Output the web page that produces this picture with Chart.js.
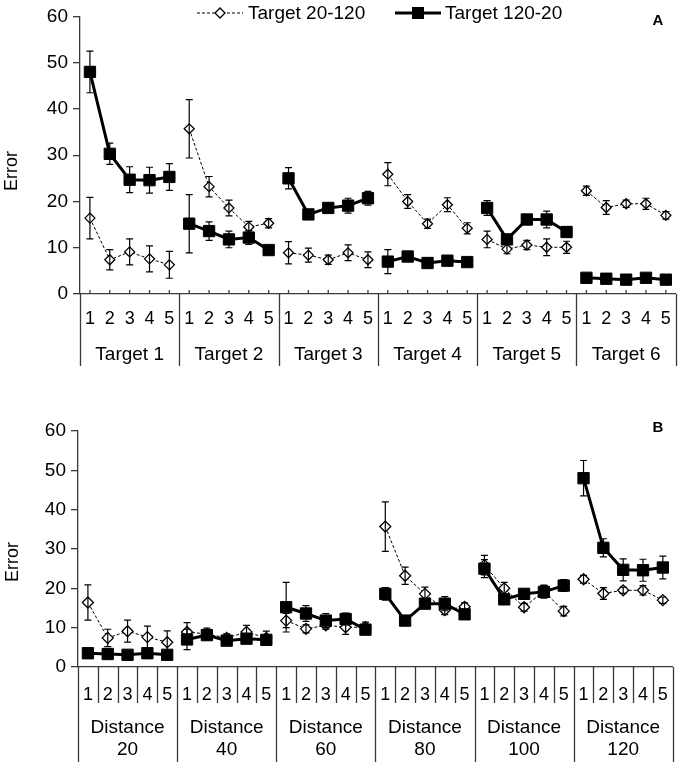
<!DOCTYPE html>
<html>
<head>
<meta charset="utf-8">
<script src="https://cdn.jsdelivr.net/npm/chart.js@4.4.1/dist/chart.umd.min.js"></script>
<style>
  body { margin: 0; background: #fff; }
  canvas { display: block; }
</style>
</head>
<body>
<canvas id="chartA" width="685" height="395"></canvas>
<canvas id="chartB" width="685" height="373"></canvas>
<script>
// trial labels and groups
const trials = ['1', '2', '3', '4', '5'];
const groupsA = ['Target 1', 'Target 2', 'Target 3', 'Target 4', 'Target 5', 'Target 6'];
const groupsB = [['Distance', '20'], ['Distance', '40'], ['Distance', '60'], ['Distance', '80'], ['Distance', '100'], ['Distance', '120']];
const yTicks = [0, 10, 20, 30, 40, 50, 60];

// Panel A - by target
const a20 = [16.4, 7.4, 9.1, 7.6, 6.3, 35.7, 23.2, 18.6, 14.5, 15.3, 8.9, 8.4, 7.4, 8.9, 7.4,
             25.9, 20.0, 15.2, 19.3, 14.2, 11.8, 9.7, 10.6, 10.1, 10.1, 22.3, 18.7, 19.5, 19.5, 17.0];
const a20Err = [4.5, 2.2, 2.8, 2.8, 2.9, 6.3, 2.2, 1.7, 1.2, 1.0, 2.4, 1.5, 1.0, 1.7, 1.7,
                2.5, 1.5, 1.0, 1.5, 1.2, 1.8, 1.0, 1.0, 1.8, 1.3, 1.0, 1.5, 0.8, 1.2, 0.8];
const a120 = [48.0, 30.3, 24.7, 24.6, 25.3, 15.2, 13.6, 11.8, 12.2, 9.5, 25.0, 17.2, 18.6, 19.1, 20.7,
              7.0, 8.1, 6.7, 7.2, 6.9, 18.6, 11.8, 16.1, 16.1, 13.4, 3.5, 3.3, 3.1, 3.5, 3.1];
const a120Err = [4.5, 2.3, 2.8, 2.8, 2.9, 6.3, 2.0, 1.8, 1.5, 0.8, 2.3, 1.0, 1.0, 1.6, 1.5,
                 2.6, 1.0, 0.8, 1.0, 0.8, 1.6, 1.0, 0.8, 1.8, 1.0, 0.8, 0.8, 0.6, 0.8, 0.6];

// Panel B - by distance
const b20 = [16.4, 7.4, 9.1, 7.6, 6.3, 8.9, 8.4, 7.4, 8.9, 7.4, 11.8, 9.7, 10.6, 10.1, 10.1,
             35.7, 23.2, 18.6, 14.5, 15.3, 25.9, 20.0, 15.2, 19.3, 14.2, 22.3, 18.7, 19.5, 19.5, 17.0];
const b20Err = [4.5, 2.2, 2.8, 2.8, 2.9, 2.4, 1.5, 1.0, 1.7, 1.7, 1.8, 1.0, 1.0, 1.8, 1.3,
                6.3, 2.2, 1.7, 1.2, 1.0, 2.5, 1.5, 1.0, 1.5, 1.2, 1.0, 1.5, 0.8, 1.2, 0.8];
const b120 = [3.5, 3.3, 3.1, 3.5, 3.1, 7.0, 8.1, 6.7, 7.2, 6.9, 15.2, 13.6, 11.8, 12.2, 9.5,
              18.6, 11.8, 16.1, 16.1, 13.4, 25.0, 17.2, 18.6, 19.1, 20.7, 48.0, 30.3, 24.7, 24.6, 25.3];
const b120Err = [0.8, 0.8, 0.6, 0.8, 0.6, 2.6, 1.0, 0.8, 1.0, 0.8, 6.3, 2.0, 1.8, 1.5, 0.8,
                 1.6, 1.0, 0.8, 1.8, 1.0, 2.3, 1.0, 1.0, 1.6, 1.5, 4.5, 2.3, 2.8, 2.8, 2.9];

const FONT = '"Liberation Sans", Arial, sans-serif';
const AXIS = '#3a3a3a';
Chart.defaults.font.family = FONT;
Chart.defaults.color = '#000';

// error bars drawn over the markers
const errorBars = {
    id: 'errorBars',
    afterDatasetsDraw(chart) {
        const ctx = chart.ctx;
        const y = chart.scales.y;
        ctx.save();
        ctx.strokeStyle = '#000';
        ctx.lineWidth = 1.2;
        chart.data.datasets.forEach((ds, di) => {
            if (!ds.errors) return;
            const meta = chart.getDatasetMeta(di);
            meta.data.forEach((pt, i) => {
                const v = ds.data[i], e = ds.errors[i];
                const top = y.getPixelForValue(v + e);
                const bot = y.getPixelForValue(v - e);
                ctx.beginPath();
                ctx.moveTo(pt.x, top); ctx.lineTo(pt.x, bot);
                ctx.moveTo(pt.x - 3.5, top); ctx.lineTo(pt.x + 3.5, top);
                ctx.moveTo(pt.x - 3.5, bot); ctx.lineTo(pt.x + 3.5, bot);
                ctx.stroke();
            });
        });
        ctx.restore();
    }
};

// group labels, separators, axis title, panel letter, legend
const panelDecor = {
    id: 'panelDecor',
    afterDraw(chart, args, opts) {
        const ctx = chart.ctx;
        const x = chart.scales.x;
        const ca = chart.chartArea;
        const n = chart.data.labels.length;
        const bounds = [];
        for (let i = 0; i <= n; i++) {
            if (i === 0) bounds.push(ca.left);
            else if (i === n) bounds.push(ca.right);
            else bounds.push((x.getPixelForValue(i - 1) + x.getPixelForValue(i)) / 2);
        }
        ctx.save();
        ctx.strokeStyle = AXIS;
        ctx.lineWidth = 1.3;
        ctx.beginPath();
        // small inside ticks
        if (opts.innerTicks) {
            for (let i = 0; i < n; i++) {
                const px = x.getPixelForValue(i);
                ctx.moveTo(px, ca.bottom); ctx.lineTo(px, ca.bottom - 4);
            }
        }
        for (let i = 0; i <= n; i++) {
            const bx = Math.round(bounds[i]) + 0.5;
            if (i % 5 === 0) {
                ctx.moveTo(bx, ca.bottom); ctx.lineTo(bx, opts.groupBottom);
            } else if (opts.catSeps) {
                ctx.moveTo(bx, ca.bottom); ctx.lineTo(bx, opts.catBottom);
            }
        }
        ctx.stroke();

        // group labels
        ctx.fillStyle = '#000';
        ctx.font = '19px ' + FONT;
        ctx.textAlign = 'center';
        ctx.textBaseline = 'middle';
        opts.groups.forEach((g, gi) => {
            const cx = (bounds[gi * 5] + bounds[gi * 5 + 5]) / 2;
            const lines = Array.isArray(g) ? g : [g];
            lines.forEach((line, li) => {
                ctx.fillText(line, cx, opts.groupY[li]);
            });
        });

        // y axis title
        ctx.save();
        ctx.font = '18px ' + FONT;
        ctx.translate(opts.titleX, opts.titleY);
        ctx.rotate(-Math.PI / 2);
        ctx.fillText('Error', 0, 0);
        ctx.restore();

        // panel letter
        ctx.font = 'bold 15px ' + FONT;
        ctx.fillText(opts.letter, 658, opts.letterY);

        if (opts.legend) {
            const ly = 13;
            ctx.font = '19px ' + FONT;
            ctx.textAlign = 'left';
            // dashed diamond entry
            ctx.strokeStyle = '#000';
            ctx.lineWidth = 1;
            ctx.setLineDash([3, 2]);
            ctx.beginPath();
            ctx.moveTo(197, ly); ctx.lineTo(243, ly);
            ctx.stroke();
            ctx.setLineDash([]);
            ctx.fillStyle = '#fff';
            ctx.lineWidth = 1.3;
            ctx.beginPath();
            ctx.moveTo(215, ly); ctx.lineTo(220, ly - 5); ctx.lineTo(225, ly); ctx.lineTo(220, ly + 5);
            ctx.closePath();
            ctx.fill(); ctx.stroke();
            ctx.fillStyle = '#000';
            ctx.fillText('Target 20-120', 248, ly + 1);
            // solid square entry
            ctx.lineWidth = 3;
            ctx.beginPath();
            ctx.moveTo(395, ly); ctx.lineTo(441, ly);
            ctx.stroke();
            ctx.fillRect(412, ly - 6, 12, 12);
            ctx.fillText('Target 120-20', 445, ly + 1);
        }
        ctx.restore();
    }
};

function breakSegments(color) {
    return ctx => (ctx.p0DataIndex % 5 === 4 ? 'rgba(0,0,0,0)' : color);
}

function makeChart(id, s20, e20, s120, e120, cfg) {
    const labels = [];
    cfg.groups.forEach(() => trials.forEach(t => labels.push(t)));
    return new Chart(document.getElementById(id), {
        type: 'line',
        data: {
            labels: labels,
            datasets: [{
                label: 'Target 20-120',
                data: s20,
                errors: e20,
                order: 1,
                borderColor: '#000',
                borderWidth: 1,
                borderDash: [3, 2],
                pointStyle: 'rectRot',
                pointRadius: cfg.diamond,
                pointBackgroundColor: '#fff',
                pointBorderColor: '#000',
                pointBorderWidth: 1.3,
                segment: { borderColor: breakSegments('#000') }
            }, {
                label: 'Target 120-20',
                data: s120,
                errors: e120,
                order: 0,
                borderColor: '#000',
                borderWidth: 3,
                pointStyle: 'rect',
                pointRadius: 8,
                pointBackgroundColor: '#000',
                pointBorderColor: '#000',
                pointBorderWidth: 1,
                segment: { borderColor: breakSegments('#000') }
            }]
        },
        options: {
            responsive: false,
            animation: false,
            layout: { padding: { top: cfg.top, right: cfg.right, left: 0, bottom: 0 } },
            plugins: {
                legend: { display: false },
                tooltip: { enabled: false },
                panelDecor: cfg.decor
            },
            scales: {
                x: {
                    type: 'category',
                    offset: true,
                    grid: { display: true, drawOnChartArea: false, drawTicks: false },
                    border: { display: true, color: AXIS, width: 1.3 },
                    ticks: { font: { size: 18 }, padding: cfg.tickPad, maxRotation: 0, autoSkip: false, color: '#000' },
                    afterFit: s => { s.height = cfg.xHeight; }
                },
                y: {
                    min: 0,
                    max: 60,
                    afterBuildTicks: s => { s.ticks = yTicks.map(v => ({ value: v })); },
                    grid: { drawOnChartArea: false, drawTicks: true, tickLength: 7, color: AXIS, lineWidth: 1.3 },
                    border: { display: true, color: AXIS, width: 1.3 },
                    ticks: { font: { size: 19 }, padding: 5, color: '#000' },
                    afterFit: s => { s.width = cfg.yWidth; }
                }
            }
        },
        plugins: [errorBars, panelDecor]
    });
}

makeChart('chartA', a20, a20Err, a120, a120Err, {
    groups: groupsA, diamond: 5, top: 12, right: 9, yWidth: 80, xHeight: 101, tickPad: 14,
    decor: { groups: groupsA, innerTicks: true, catSeps: false, groupBottom: 366, groupY: [355],
             titleX: 12, titleY: 171, letter: 'A', letterY: 21, legend: true }
});

makeChart('chartB', b20, b20Err, b120, b120Err, {
    groups: groupsB, diamond: 5.5, top: 36, right: 7, yWidth: 78, xHeight: 101, tickPad: 17,
    decor: { groups: groupsB, innerTicks: false, catSeps: true, catBottom: 308, groupBottom: 367, groupY: [333, 355],
             titleX: 13, titleY: 167, letter: 'B', letterY: 33, legend: false }
});
</script>
</body>
</html>
